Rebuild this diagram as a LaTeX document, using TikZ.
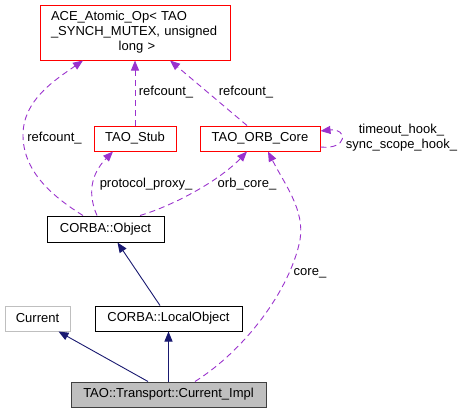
\documentclass[tikz,border=0pt]{standalone}
\usepackage{fontspec}
\setmainfont{Liberation Sans}
\usetikzlibrary{arrows.meta}
\definecolor{edgepurple}{HTML}{9A32CD}
\definecolor{edgenavy}{HTML}{191970}
\definecolor{boxred}{HTML}{FF0000}
\definecolor{implgray}{HTML}{BFBFBF}
\begin{document}
\begin{tikzpicture}[x=1pt,y=-1pt,
  font=\fontsize{13}{15}\selectfont,
  cls/.style={draw=black,line width=1pt,fill=white,inner sep=0pt,anchor=center},
  redcls/.style={cls,draw=boxred},
  usage/.style={draw=edgepurple,line width=0.9pt,dash pattern=on 6pt off 4pt,
     -{Triangle[length=10pt,width=8pt,fill=edgepurple]}},
  inherit/.style={draw=edgenavy,line width=0.9pt,
     -{Triangle[length=10pt,width=8pt,fill=edgenavy]}},
  lbl/.style={inner sep=0pt,anchor=center,align=center}]
\useasboundingbox (0,0) rectangle (463,413);

% nodes
\node[redcls,minimum width=190pt,minimum height=55pt] (ace) at (135,32.5) {};
\node[inner sep=0pt,text width=169pt,align=left,anchor=center] (acetext) at (135.5,32.5)
  {ACE\_Atomic\_Op< TAO\\\_SYNCH\_MUTEX, unsigned\\\makebox[\linewidth][c]{\hspace*{3pt}long >}};
\node[redcls,minimum width=82pt,minimum height=25pt] (stub) at (135,138.5) {TAO\_Stub};
\node[redcls,minimum width=120pt,minimum height=25pt] (orb) at (260,138.5) {TAO\_ORB\_Core};
\node[cls,minimum width=117pt,minimum height=26pt] (obj) at (105.5,229) {CORBA::Object};
\node[cls,draw=implgray,minimum width=65pt,minimum height=25pt] (cur) at (37.5,318.5) {Current};
\node[cls,minimum width=147pt,minimum height=25pt] (lobj) at (168.5,318.5) {CORBA::LocalObject};
\node[cls,fill=implgray,draw=black!75,minimum width=195pt,minimum height=25pt] (impl) at (168.5,394.5) {TAO::Transport::Current\_Impl};

% usage edges
\draw[usage] ([xshift=-22.5pt]obj.north) .. controls (50,195) and (23,170) .. (23,135)
   .. controls (23,100) and (55,80) .. ([xshift=-52pt]ace.south);
\draw[usage] (stub.north) -- (ace.south);
\draw[usage] ([xshift=-13pt]orb.north) -- ([xshift=35pt]ace.south);
\draw[usage] ([xshift=-8.5pt]obj.north) .. controls (88,195) and (90,175) .. ([xshift=-22pt]stub.south);
\draw[usage] ([xshift=34.5pt]obj.north) .. controls (175,205) and (220,180) .. ([xshift=-13pt]orb.south);
\draw[usage] ([xshift=26.5pt]impl.north) .. controls (245,350) and (290,290) .. (300,240)
   .. controls (305,210) and (285,185) .. ([xshift=8pt]orb.south);
\draw[usage] ([yshift=-8.5pt]orb.east) .. controls (348,150) and (348,128) .. ([yshift=7.5pt]orb.east);

% inheritance edges
\draw[inherit] ([xshift=-8.5pt]lobj.north) -- ([xshift=12pt]obj.south);
\draw[inherit] ([xshift=-20.5pt]impl.north) -- ([xshift=21pt]cur.south);
\draw[inherit] (impl.north) -- (lobj.south);

% labels
\node[lbl] (l1) at (54.5,138) {refcount\_};
\node[lbl] (l2) at (166,92) {refcount\_};
\node[lbl] (l3) at (246,92) {refcount\_};
\node[lbl] (l4) at (401.5,138) {timeout\_hook\_\\sync\_scope\_hook\_};
\node[lbl] (l5) at (146,184) {protocol\_proxy\_};
\node[lbl] (l6) at (247,184) {orb\_core\_};
\node[lbl] (l7) at (310,273) {core\_};
\end{tikzpicture}
\end{document}
